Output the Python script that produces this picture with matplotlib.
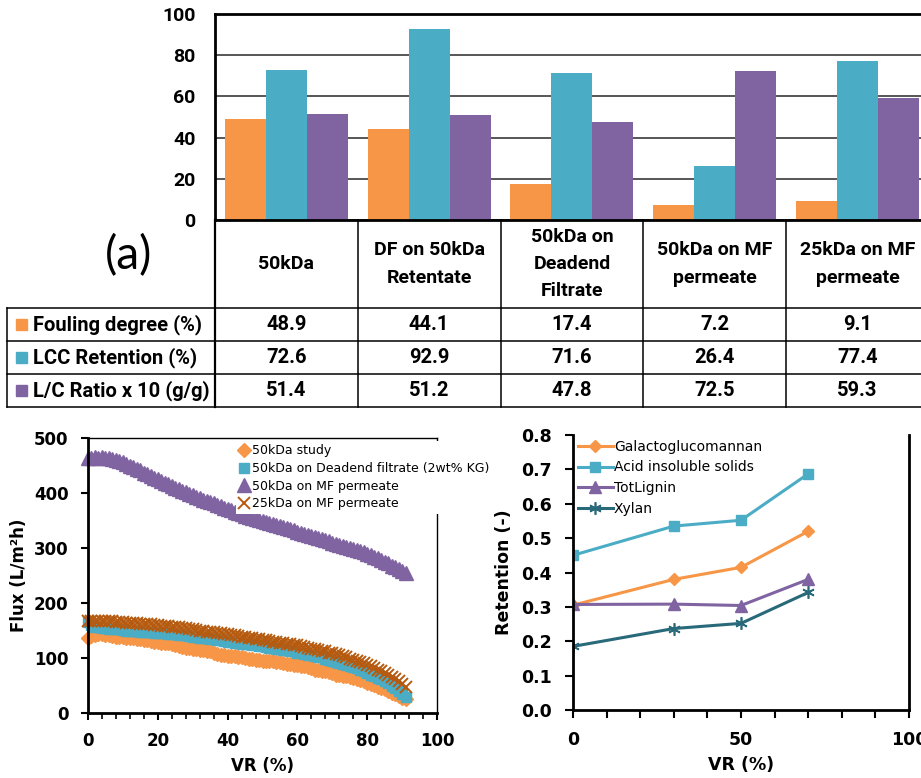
import numpy as np
import matplotlib.pyplot as plt
from matplotlib.patches import Rectangle
from matplotlib.ticker import MultipleLocator, FormatStrFormatter

# ---- (a) membrane cases ----
cases = ['50kDa', 'DF on 50kDa\nRetentate', '50kDa on\nDeadend\nFiltrate',
         '50kDa on MF\npermeate', '25kDa on MF\npermeate']
fouling = [48.9, 44.1, 17.4, 7.2, 9.1]
lcc_retention = [72.6, 92.9, 71.6, 26.4, 77.4]
lc_ratio = [51.4, 51.2, 47.8, 72.5, 59.3]
row_labels = ['Fouling degree (%)', 'LCC Retention (%)', 'L/C Ratio x 10 (g/g)']

# ---- (b) flux vs volume reduction, one reading per % VR ----
vr = np.arange(0, 92)
flux_50kda = [136, 140, 142, 143, 143, 142, 141, 140, 139, 139,
              138, 137, 136, 136, 135, 134, 133, 132, 131, 130,
              129, 128, 128, 127, 126, 124, 122, 120, 119, 118,
              117, 116, 115, 114, 113, 112, 110, 108, 106, 105,
              104, 103, 103, 102, 101, 100, 99, 98, 97, 96,
              95, 95, 94, 94, 93, 92, 91, 90, 89, 88,
              87, 86, 85, 83, 81, 79, 78, 77, 76, 74,
              72, 70, 69, 68, 67, 65, 64, 62, 60, 58,
              55, 53, 51, 48, 46, 43, 40, 37, 34, 31,
              28, 26]
flux_deadend = [165, 160, 157, 156, 155, 154, 153, 153, 152, 152,
                151, 150, 150, 149, 149, 148, 148, 147, 147, 146,
                146, 145, 145, 144, 143, 143, 142, 141, 141, 140,
                139, 138, 137, 136, 136, 135, 134, 133, 132, 131,
                130, 129, 128, 127, 126, 126, 125, 124, 123, 122,
                121, 120, 119, 118, 117, 116, 115, 114, 113, 112,
                110, 109, 108, 106, 105, 104, 102, 101, 99, 97,
                95, 93, 91, 89, 87, 85, 83, 81, 79, 76,
                73, 70, 67, 64, 61, 58, 54, 50, 45, 40,
                34, 30]
flux_mf50 = [463, 464, 465, 464, 465, 464, 463, 462, 460, 458,
             456, 453, 450, 447, 444, 441, 437, 434, 431, 428,
             425, 422, 419, 416, 413, 410, 407, 404, 401, 398,
             396, 393, 391, 388, 386, 383, 381, 378, 376, 373,
             371, 369, 366, 364, 362, 359, 357, 355, 353, 351,
             349, 347, 345, 343, 342, 340, 338, 336, 334, 332,
             330, 328, 326, 324, 322, 320, 318, 316, 314, 312,
             310, 308, 306, 304, 302, 300, 298, 296, 294, 292,
             290, 287, 284, 281, 278, 275, 272, 268, 265, 261,
             258, 255]
flux_mf25 = [168, 168, 168, 168, 167, 167, 167, 167, 166, 166,
             165, 164, 164, 163, 163, 162, 162, 161, 161, 160,
             160, 159, 158, 158, 157, 156, 156, 155, 154, 153,
             152, 151, 150, 149, 148, 148, 147, 146, 145, 144,
             143, 142, 141, 140, 139, 138, 137, 136, 135, 134,
             133, 132, 131, 130, 129, 128, 127, 126, 125, 124,
             123, 121, 120, 119, 117, 116, 115, 113, 112, 110,
             109, 107, 105, 103, 101, 99, 97, 95, 93, 91,
             88, 85, 82, 79, 76, 73, 70, 66, 62, 58,
             53, 48]

# ---- (c) retention on MF ----
vr_mf = [0, 30, 50, 70]
ret_ggm = [0.305, 0.380, 0.415, 0.520]
ret_ais = [0.450, 0.535, 0.552, 0.687]
ret_lignin = [0.307, 0.308, 0.304, 0.380]
ret_xylan = [0.185, 0.237, 0.252, 0.342]

ORANGE, TEAL, PURPLE = '#F79646', '#4BACC6', '#8064A2'
BROWN, DARKTEAL = '#B55A0E', '#28697A'

W, H = 921, 778
TOPFONT = ['Roboto', 'DejaVu Sans']


def px_box(l, t, r, b):
    return [l / W, 1 - b / H, (r - l) / W, (b - t) / H]


fig = plt.figure(figsize=(W / 100, H / 100), dpi=100)

# bar chart, last column runs off the right edge
col_left, col_w = 215, 142.75
ax_a = fig.add_axes(px_box(col_left, 14, col_left + 5 * col_w, 220))
x = np.arange(len(cases))
bw = 0.287
for k, (vals, c) in enumerate(zip([fouling, lcc_retention, lc_ratio],
                                  [ORANGE, TEAL, PURPLE])):
    ax_a.bar(x + (k - 1) * bw, vals, bw, color=c, zorder=2)
ax_a.set_xlim(-0.5, 4.5)
ax_a.set_ylim(0, 100)
ax_a.set_yticks(range(0, 101, 20))
ax_a.set_xticks([])
ax_a.yaxis.grid(True, color='#3a3a3a', lw=1.2)
ax_a.set_axisbelow(True)
ax_a.tick_params(axis='y', length=0, pad=14)
for lab in ax_a.get_yticklabels():
    lab.set_family(TOPFONT)
    lab.set_fontweight('bold')
    lab.set_fontsize(14)
ax_a.spines['right'].set_visible(False)
for s in ['left', 'top', 'bottom']:
    ax_a.spines[s].set_linewidth(2)

# data table under the bars, drawn in pixel coordinates
ax_t = fig.add_axes([0, 0, 1, 1])
ax_t.set_xlim(0, W)
ax_t.set_ylim(H, 0)
ax_t.axis('off')
row_y = [308, 341, 374, 407]
for i in range(6):
    xx = col_left + i * col_w
    ax_t.plot([xx, xx], [220, 407], color='black', lw=1.6 if i == 0 else 1.1)
for yy in row_y:
    ax_t.plot([7, W], [yy, yy], color='black', lw=1.1)
ax_t.plot([7, 7], [308, 407], color='black', lw=1.1)
for i, name in enumerate(cases):
    ax_t.text(col_left + (i + 0.5) * col_w, 264, name, ha='center', va='center',
              family=TOPFONT, fontweight='bold', fontsize=14, linespacing=1.65)
for r, (lab, c, vals) in enumerate(zip(row_labels, [ORANGE, TEAL, PURPLE],
                                       [fouling, lcc_retention, lc_ratio])):
    yc = (row_y[r] + row_y[r + 1]) / 2
    ax_t.add_patch(Rectangle((15.5, yc - 5.5), 11, 11, color=c))
    ax_t.text(33, yc, lab, ha='left', va='center', family=TOPFONT,
              fontweight='bold', fontsize=14.5)
    for i, v in enumerate(vals):
        ax_t.text(col_left + (i + 0.5) * col_w, yc, f'{v:.1f}', ha='center',
                  va='center', family=TOPFONT, fontweight='bold', fontsize=14.5)
ax_t.text(129, 256, '(a)', ha='center', va='center', family='Lato', fontsize=33)

# flux curves
ax_b = fig.add_axes(px_box(88, 438, 437, 713))
ax_b.plot(vr, flux_50kda, ls='none', marker='D', ms=7, color=ORANGE,
          clip_on=False, label='50kDa study')
ax_b.plot(vr, flux_deadend, ls='none', marker='s', ms=7, color=TEAL,
          clip_on=False, label='50kDa on Deadend filtrate (2wt% KG)')
ax_b.plot(vr, flux_mf50, ls='none', marker='^', ms=9.5, color=PURPLE,
          clip_on=False, label='50kDa on MF permeate')
ax_b.plot(vr, flux_mf25, ls='none', marker='x', ms=8, mew=1.4, color=BROWN,
          clip_on=False, label='25kDa on MF permeate')
ax_b.set_xlim(0, 100)
ax_b.set_ylim(0, 500)
ax_b.xaxis.set_major_locator(MultipleLocator(20))
ax_b.xaxis.set_minor_locator(MultipleLocator(4))
ax_b.yaxis.set_major_locator(MultipleLocator(100))
ax_b.tick_params(which='major', direction='out', length=5, width=1.5,
                 labelsize=12, pad=9)
ax_b.tick_params(which='minor', direction='out', length=4, width=1.2)
for lab in ax_b.get_xticklabels() + ax_b.get_yticklabels():
    lab.set_fontweight('bold')
ax_b.set_xlabel('VR (%)', fontweight='bold', fontsize=12, labelpad=5)
ax_b.set_ylabel('Flux (L/m²h)', fontweight='bold', fontsize=12, labelpad=4)
for s in ['left', 'bottom']:
    ax_b.spines[s].set_linewidth(2)
for s in ['top', 'right']:
    ax_b.spines[s].set_linewidth(1)
ax_b.legend(loc='upper left', bbox_to_anchor=(236 / W, 1 - 441 / H),
            bbox_transform=fig.transFigure, fontsize=9, frameon=True,
            fancybox=False, edgecolor='none', framealpha=1,
            handlelength=0.8, handletextpad=0.25, borderpad=0.25,
            labelspacing=0.38, borderaxespad=0)
ax_t.text(122, 677, '(b)', ha='center', va='center', family='Lato', fontsize=33)

# retention after MF
ax_c = fig.add_axes(px_box(573, 435, 909, 710))
ax_c.plot(vr_mf, ret_ggm, color=ORANGE, lw=2.2, marker='D', ms=6.5,
          label='Galactoglucomannan')
ax_c.plot(vr_mf, ret_ais, color=TEAL, lw=2.2, marker='s', ms=7,
          label='Acid insoluble solids')
ax_c.plot(vr_mf, ret_lignin, color=PURPLE, lw=2.2, marker='^', ms=8,
          label='TotLignin')
ax_c.plot(vr_mf, ret_xylan, color=DARKTEAL, lw=2.2, marker=(6, 2, 0), ms=9,
          mew=1.2, label='Xylan')
ax_c.set_xlim(0, 100)
ax_c.set_ylim(0, 0.8)
ax_c.xaxis.set_major_locator(MultipleLocator(50))
ax_c.xaxis.set_minor_locator(MultipleLocator(10))
ax_c.yaxis.set_major_locator(MultipleLocator(0.1))
ax_c.yaxis.set_major_formatter(FormatStrFormatter('%.1f'))
ax_c.tick_params(which='major', direction='out', length=6, width=1.5,
                 labelsize=12.5, pad=9)
ax_c.tick_params(which='minor', direction='out', length=6, width=1.5)
for lab in ax_c.get_xticklabels() + ax_c.get_yticklabels():
    lab.set_fontweight('bold')
ax_c.set_xlabel('VR (%)', fontweight='bold', fontsize=12.5, labelpad=5)
ax_c.set_ylabel('Retention (-)', fontweight='bold', fontsize=12.5, labelpad=6)
ax_c.spines['top'].set_visible(False)
for s in ['left', 'bottom', 'right']:
    ax_c.spines[s].set_linewidth(2)
ax_c.legend(loc='upper left', bbox_to_anchor=(575 / W, 1 - 437 / H),
            bbox_transform=fig.transFigure, fontsize=10, frameon=False,
            handlelength=2.5, handletextpad=0.1, borderpad=0.2,
            labelspacing=0.48, borderaxespad=0)
ax_t.text(605, 677, '(c)', ha='center', va='center', family='Lato', fontsize=33)
ax_t.text(872, 674, 'MF', ha='center', va='center', family='Lato', fontsize=34)

fig.savefig('out.png', dpi=100)
